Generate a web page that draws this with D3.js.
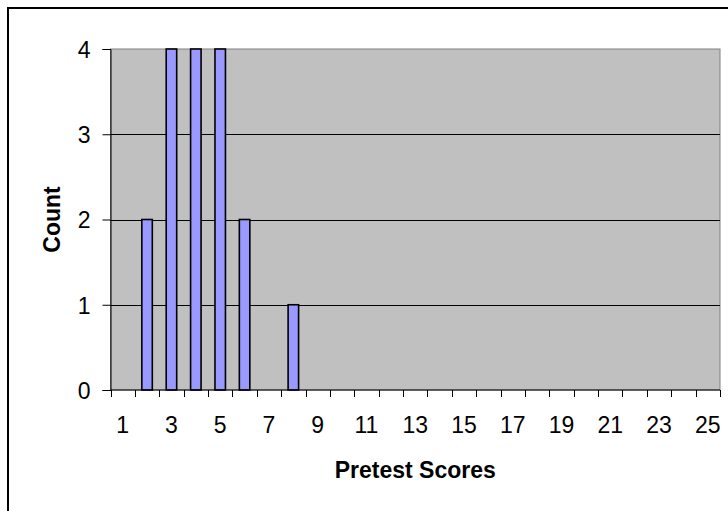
<!DOCTYPE html>
<html>
<head>
<meta charset="utf-8">
<script src="https://cdn.jsdelivr.net/npm/d3@7"></script>
<style>
  body { margin: 0; background: #fff; }
  text { font-family: "Liberation Sans", Arial, sans-serif; fill: #000; }
</style>
</head>
<body>
<script>
// data
var scores = d3.range(1, 26),
    counts = [0, 2, 4, 4, 4, 2, 0, 1, 0, 0, 0, 0, 0, 0, 0, 0, 0, 0, 0, 0, 0, 0, 0, 0, 0],
    yTicks = [0, 1, 2, 3, 4],
    xLabels = scores.filter(function(d){ return d % 2 === 1; });

var w = 728,
    h = 511,
    plotLeft = 110.5,
    plotRight = 720,
    plotTop = 49,
    plotBottom = 390,
    svg = d3.select('body')
            .append('svg')
            .attr('width', w)
            .attr('height', h);

var x = d3.scaleBand()
          .domain(scores)
          .range([plotLeft, plotRight])
          .paddingInner(0.57)
          .paddingOuter(0.285);

var y = d3.scaleLinear()
          .domain([0, 4])
          .range([plotBottom, plotTop]);

// chart border
svg.append('rect')
  .attr('x', 8)
  .attr('y', 8)
  .attr('width', w + 20)
  .attr('height', h + 20)
  .attr('fill', 'none')
  .attr('stroke', '#000')
  .attr('stroke-width', 2);

// plot area
svg.append('rect')
  .attr('x', plotLeft)
  .attr('y', plotTop)
  .attr('width', plotRight - plotLeft)
  .attr('height', plotBottom - plotTop)
  .attr('fill', '#c0c0c0')
  .attr('stroke', '#808080')
  .attr('stroke-width', 1);

// gridlines
svg.append('g')
  .selectAll('line')
  .data(yTicks.filter(function(d){ return d > 0 && d < 4; }))
  .enter()
  .append('line')
  .attr('x1', plotLeft)
  .attr('x2', plotRight)
  .attr('y1', function(d){ return Math.round(y(d)) + 0.5; })
  .attr('y2', function(d){ return Math.round(y(d)) + 0.5; })
  .attr('stroke', '#000')
  .attr('stroke-width', 1);

// bars
var bars = scores.map(function(s, i){ return {score: s, count: counts[i]}; })
                 .filter(function(d){ return d.count > 0; });

svg.append('g')
  .selectAll('rect')
  .data(bars)
  .enter()
  .append('rect')
  .attr('x', function(d){ return x(d.score); })
  .attr('y', function(d){ return y(d.count); })
  .attr('width', x.bandwidth())
  .attr('height', function(d){ return plotBottom - y(d.count); })
  .attr('fill', '#9999ff')
  .attr('stroke', '#000')
  .attr('stroke-width', 1.6);

// y axis
var yAxis = d3.axisLeft(y)
              .tickValues(yTicks)
              .tickSize(8)
              .tickPadding(12)
              .tickFormat(d3.format('d'));

var gy = svg.append('g')
  .attr('transform', 'translate(' + plotLeft + ',0)')
  .call(yAxis);
gy.select('.domain').attr('stroke', '#000');
gy.selectAll('text').style('font-size', '23px').attr('dy', '0.36em');

// x axis: ticks at category boundaries, labels on every other category
var edges = d3.range(0, 26).map(function(i){ return plotLeft + i * x.step(); });
var gx = svg.append('g');
gx.append('line')
  .attr('x1', plotLeft)
  .attr('x2', plotRight)
  .attr('y1', plotBottom)
  .attr('y2', plotBottom)
  .attr('stroke', '#000');
gx.selectAll('line.tick')
  .data(edges)
  .enter()
  .append('line')
  .classed('tick', true)
  .attr('x1', function(d){ return Math.round(d) + 0.5; })
  .attr('x2', function(d){ return Math.round(d) + 0.5; })
  .attr('y1', plotBottom)
  .attr('y2', plotBottom + 7)
  .attr('stroke', '#000');
gx.selectAll('text')
  .data(xLabels)
  .enter()
  .append('text')
  .attr('x', function(d){ return x(d) + x.bandwidth() / 2; })
  .attr('y', 433)
  .attr('text-anchor', 'middle')
  .style('font-size', '23px')
  .text(function(d){ return d; });

// axis titles
svg.append('text')
  .attr('x', (plotLeft + plotRight) / 2)
  .attr('y', 478)
  .attr('text-anchor', 'middle')
  .style('font-size', '23px')
  .style('font-weight', 'bold')
  .text('Pretest Scores');

svg.append('text')
  .attr('transform', 'translate(60,' + (plotTop + plotBottom) / 2 + ') rotate(-90)')
  .attr('text-anchor', 'middle')
  .style('font-size', '23px')
  .style('font-weight', 'bold')
  .text('Count');
</script>
</body>
</html>
